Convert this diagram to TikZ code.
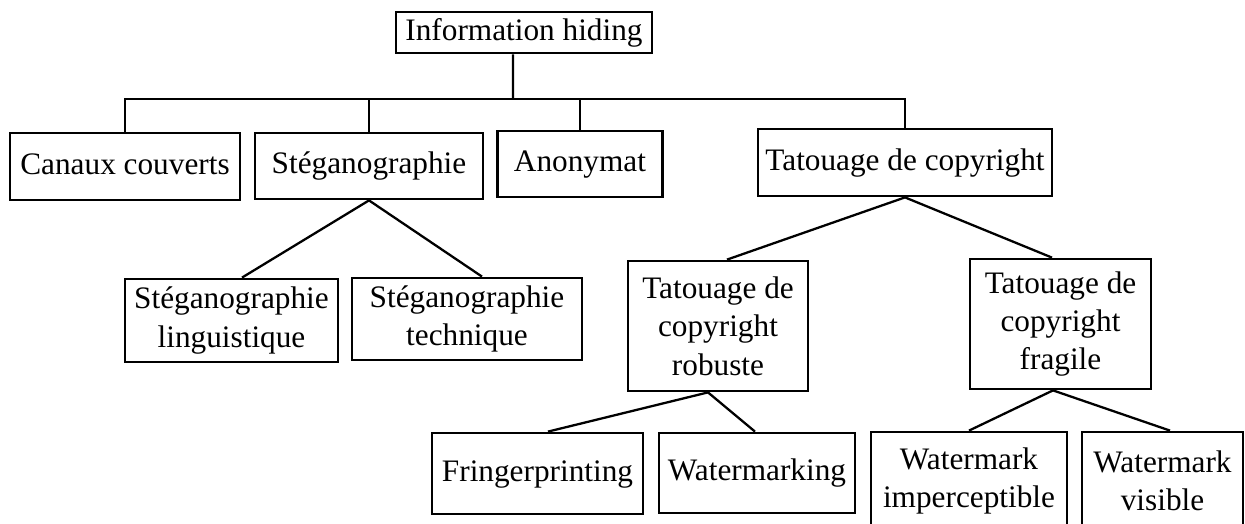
\documentclass[tikz,border=0pt]{standalone}
\usepackage{fontspec}
\setmainfont{Liberation Serif}

\begin{document}
\begin{tikzpicture}[x=0.02cm, y=-0.02cm,
  box/.style={draw, line width=1.6pt, align=center, inner sep=0pt,
    font=\fontsize{17.8}{21.9}\selectfont},
  single/.style={box, text height=1em, text depth=0.12em},
  link/.style={line width=1.3pt},
]
\useasboundingbox (0,0) rectangle (1245,524);
\clip (0,0) rectangle (1245,524);

% Root
\node[single, minimum width=5.12cm, minimum height=0.82cm] (info) at (524,32.5) {Information hiding};

% Level 1
\node[single, minimum width=4.6cm, minimum height=1.34cm] (canaux) at (125,166.5) {Canaux couverts};
\node[single, minimum width=4.56cm, minimum height=1.32cm] (steg) at (369,166) {Stéganographie};
\node[single, minimum width=3.3cm, minimum height=1.32cm] (anon) at (580,164) {Anonymat};
\node[single, minimum width=5.88cm, minimum height=1.34cm] (tatou) at (905,162.5) {Tatouage de copyright};

% Level 2
\node[box, minimum width=4.26cm, minimum height=1.66cm] (ling) at (231.5,320.5) {Stéganographie\\linguistique};
\node[box, minimum width=4.6cm, minimum height=1.64cm] (tech) at (467,319) {Stéganographie\\technique};
\node[box, minimum width=3.6cm, minimum height=2.6cm] (robuste) at (718,326) {Tatouage de\\copyright\\robuste};
\node[box, minimum width=3.62cm, minimum height=2.6cm] (fragile) at (1060.5,324) {Tatouage de\\copyright\\fragile};

% Level 3
\node[single, minimum width=4.22cm, minimum height=1.62cm] (finger) at (537.5,473.5) {Fringerprinting};
\node[single, minimum width=3.92cm, minimum height=1.6cm] (wmarking) at (757,473) {Watermarking};
\node[box, minimum width=3.92cm, minimum height=1.96cm] (imperc) at (969,481) {Watermark\\imperceptible};
\node[box, minimum width=3.22cm, minimum height=1.96cm] (visible) at (1162.5,481) {Watermark\\visible};

% Bus from the root
\coordinate (bus) at (513,99);
\draw[link] ([xshift=-0.22cm]info.south) -- (bus);
\draw[link] (canaux.north) |- (tatou.north |- bus) -- (tatou.north);
\draw[link] (steg.north) -- (steg.north |- bus);
\draw[link] (anon.north) -- (anon.north |- bus);

% Branches
\draw[link] ([xshift=0.21cm]ling.north) -- (steg.south) -- ([xshift=0.3cm]tech.north);
\draw[link] ([xshift=0.18cm]robuste.north) -- (tatou.south) -- ([xshift=-0.17cm]fragile.north);
\draw[link] ([xshift=0.21cm]finger.north) -- ([xshift=-0.2cm]robuste.south) -- ([xshift=-0.04cm]wmarking.north);
\draw[link] (imperc.north) -- ([xshift=-0.15cm]fragile.south) -- ([xshift=0.15cm]visible.north);
\end{tikzpicture}
\end{document}
